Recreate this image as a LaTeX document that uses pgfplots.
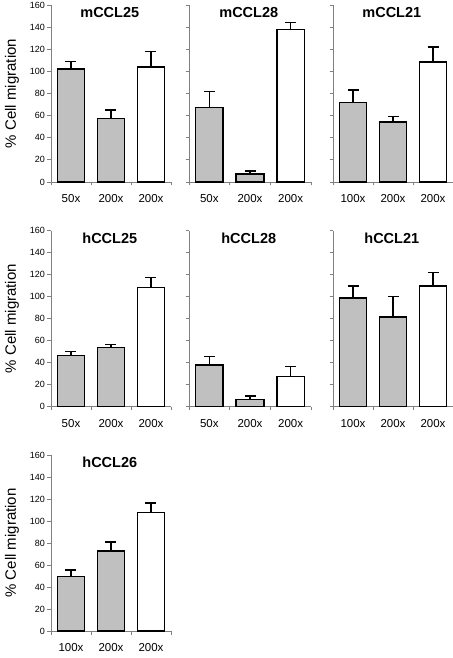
\documentclass[border=0pt]{standalone}
\usepackage{fontspec}
\setmainfont{Liberation Sans}
\usepackage{pgfplots}
\pgfplotsset{compat=1.18}
\definecolor{bargray}{HTML}{C0C0C0}
\definecolor{axgray}{HTML}{808080}
\pgfplotsset{
  panel/.style={
    scale only axis, width=120bp, height=176bp, anchor=south west,
    xmin=-0.5, xmax=2.5, ymin=0, ymax=160, clip=false,
    axis lines*=left,
    axis line style={axgray, line width=0.8bp},
    every tick/.style={axgray, line width=0.8bp},
    tick align=outside, major tick length=3.5bp,
    ytick={0,20,...,160},
    xtick={-0.5,0.5,1.5,2.5}, xticklabels={},
    extra x ticks={0,1,2},
    extra x tick style={major tick length=0pt,
      tick label style={anchor=center, yshift=-17bp, font=\fontsize{11.5bp}{13bp}\selectfont}},
    yticklabel style={font=\fontsize{9bp}{10bp}\selectfont, xshift=1bp},
    /pgf/number format/assume math mode=true,
    ybar, bar width=0.68,
    title style={font=\bfseries\fontsize{14.5bp}{16bp}\selectfont, at={(axis description cs:0.49,0.955)}, anchor=north, inner sep=0pt},
  },
  leftcol/.style={ylabel={\% Cell migration},
    ylabel style={font=\fontsize{15bp}{17bp}\selectfont, at={(axis description cs:-0.325,0.5)}, anchor=center}},
  nolabels/.style={yticklabels={}},
  gbar/.style={bar shift=0pt, fill=bargray, draw=black, line width=1.4bp,
    error bars/.cd, y dir=plus, y explicit, error mark=|,
    error bar style={black, line width=1.4bp},
    error mark options={black, mark size=5.5bp, line width=1.4bp}},
  wbar/.style={bar shift=0pt, fill=white, draw=black, line width=1.4bp,
    error bars/.cd, y dir=plus, y explicit, error mark=|,
    error bar style={black, line width=1.4bp},
    error mark options={black, mark size=5.5bp, line width=1.4bp}},
}
\begin{document}
\begin{tikzpicture}
\useasboundingbox (0,0) rectangle (453bp,658bp);
% Row 1
\begin{axis}[panel, leftcol, at={(51bp,476bp)}, height=177bp, title={mCCL25},
  extra x tick labels={50x,200x,200x}]
\addplot[gbar] coordinates {(0,102) +- (0,6.8) (1,57.6) +- (0,7.4)};
\addplot[wbar] coordinates {(2,104) +- (0,13.8)};
\end{axis}
\begin{axis}[panel, nolabels, at={(189bp,476bp)}, height=177bp, width=122bp, title={mCCL28},
  extra x tick labels={50x,200x,200x}]
\addplot[gbar] coordinates {(0,67.5) +- (0,14.5) (1,7.2) +- (0,2.8)};
\addplot[wbar] coordinates {(2,138) +- (0,6)};
\end{axis}
\begin{axis}[panel, nolabels, at={(333bp,476bp)}, height=177bp, title={mCCL21},
  extra x tick labels={100x,200x,200x}]
\addplot[gbar] coordinates {(0,71.7) +- (0,11.3) (1,54.2) +- (0,4.8)};
\addplot[wbar] coordinates {(2,108.5) +- (0,13.5)};
\end{axis}
% Row 2
\begin{axis}[panel, leftcol, at={(51bp,251.3bp)}, title={hCCL25},
  extra x tick labels={50x,200x,200x}]
\addplot[gbar] coordinates {(0,46.7) +- (0,3.3) (1,53.6) +- (0,2.8)};
\addplot[wbar] coordinates {(2,108.2) +- (0,9.4)};
\end{axis}
\begin{axis}[panel, nolabels, at={(189bp,251.3bp)}, width=122bp, title={hCCL28},
  extra x tick labels={50x,200x,200x}]
\addplot[gbar] coordinates {(0,37.8) +- (0,7.9) (1,6.4) +- (0,3.3)};
\addplot[wbar] coordinates {(2,27.2) +- (0,9.1)};
\end{axis}
\begin{axis}[panel, nolabels, at={(333bp,251.3bp)}, title={hCCL21},
  extra x tick labels={100x,200x,200x}]
\addplot[gbar] coordinates {(0,98.9) +- (0,10.9) (1,81.7) +- (0,18.3)};
\addplot[wbar] coordinates {(2,109.8) +- (0,12.4)};
\end{axis}
% Row 3
\begin{axis}[panel, leftcol, at={(51bp,27bp)}, title={hCCL26},
  extra x tick labels={100x,200x,200x}]
\addplot[gbar] coordinates {(0,49.3) +- (0,6.1) (1,72.9) +- (0,8.1)};
\addplot[wbar] coordinates {(2,108) +- (0,8.5)};
\end{axis}
\end{tikzpicture}
\end{document}
